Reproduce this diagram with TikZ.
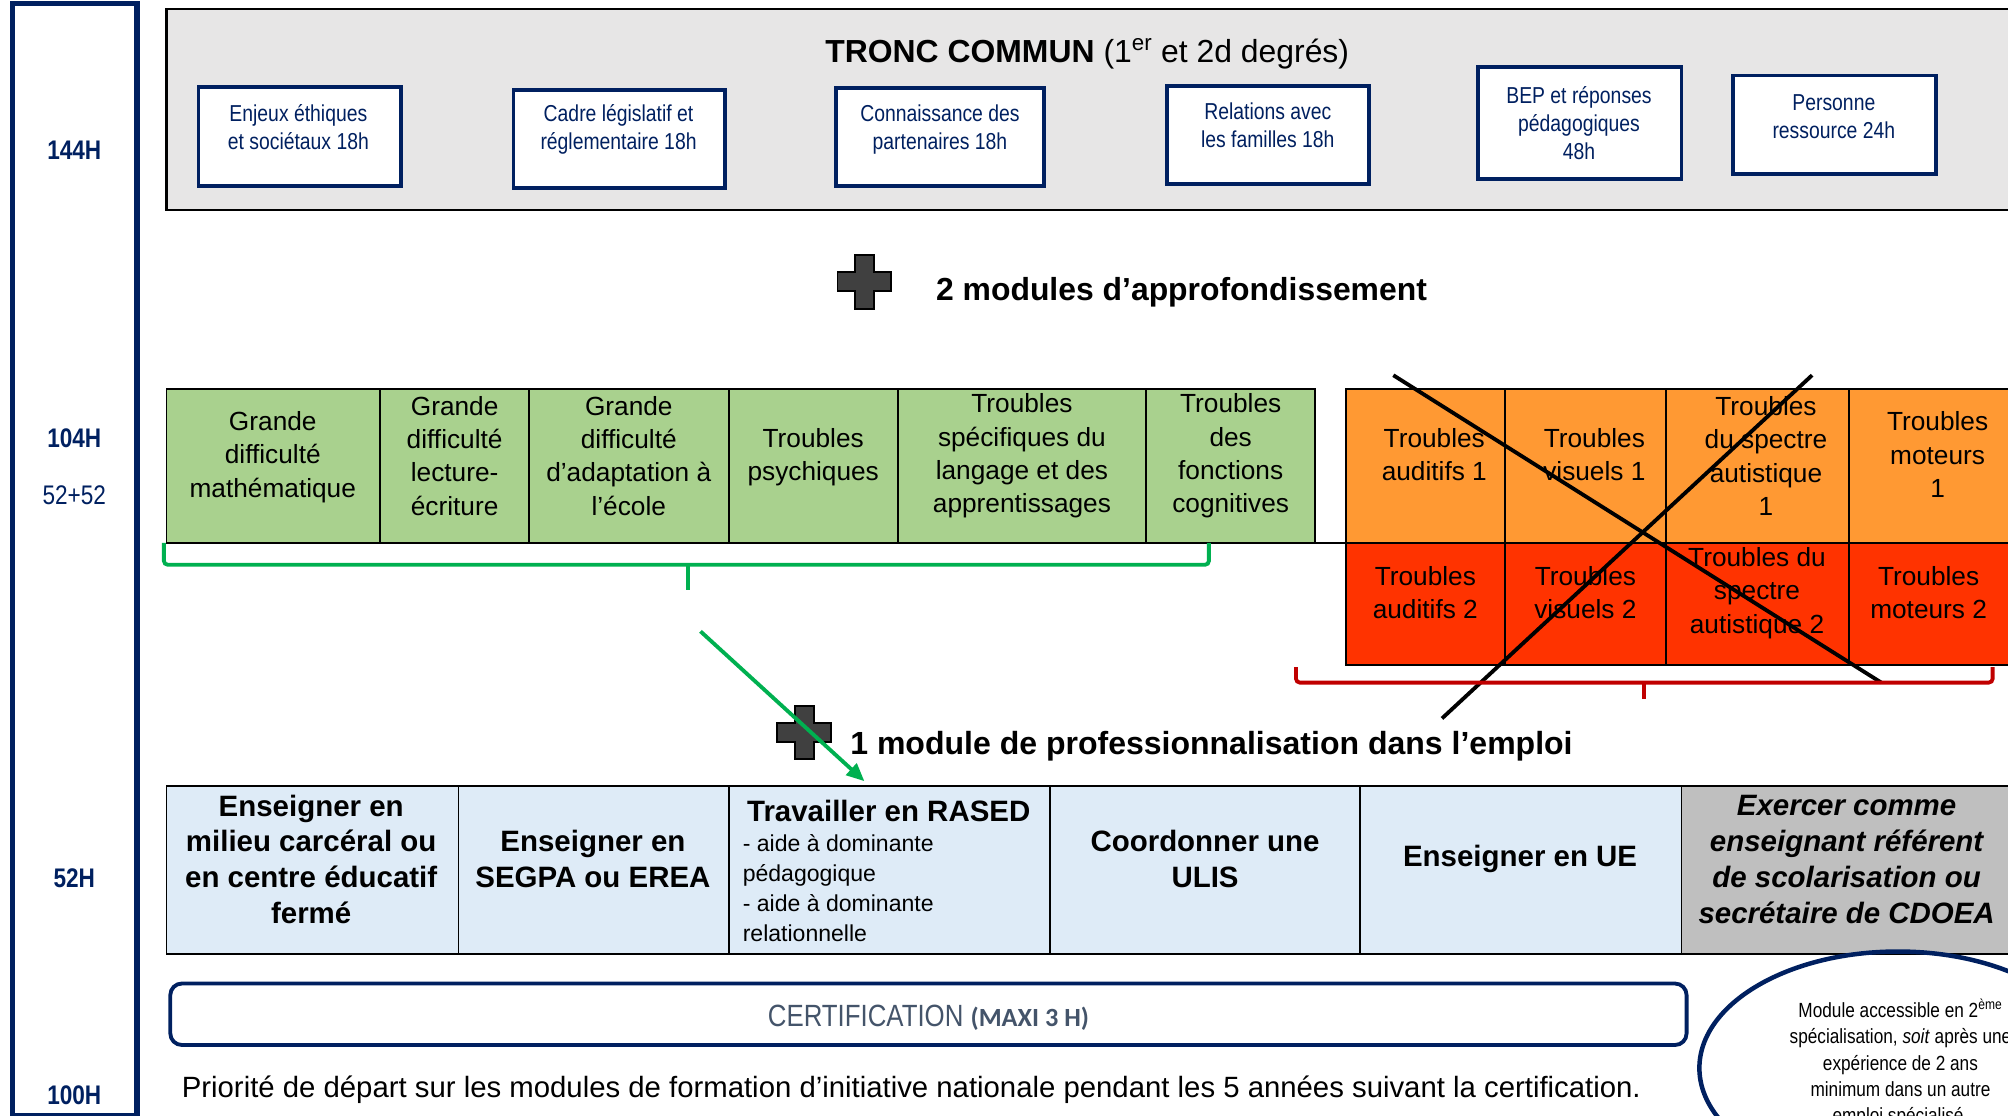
\documentclass[tikz,border=0pt]{standalone}
\usepackage{fontspec}
\setmainfont{Liberation Sans}
\newfontfamily\narrowfont[FakeStretch=0.84]{Liberation Sans}
\newfontfamily\carlitofont{Carlito}
\usetikzlibrary{arrows.meta,shapes.geometric,calc}
\definecolor{navy}{HTML}{002060}
\definecolor{tcgray}{HTML}{E7E6E6}
\definecolor{cgreen}{HTML}{A9D18E}
\definecolor{corange}{HTML}{FF9933}
\definecolor{cred}{HTML}{FF3300}
\definecolor{cblue}{HTML}{DEEBF7}
\definecolor{cgrey}{HTML}{BFBFBF}
\definecolor{lgreen}{HTML}{00B050}
\definecolor{lred}{HTML}{C00000}
\definecolor{certtxt}{HTML}{44546A}
\definecolor{plusgray}{HTML}{404040}
\newcommand\myfs[2]{\fontsize{#1}{#2}\selectfont}
\begin{document}
\begin{tikzpicture}[x=1pt,y=-1pt,
  every node/.style={inner sep=0pt, outer sep=0pt},
  sbox/.style={draw=navy, line width=3pt, fill=white},
  stext/.style={text=navy, align=center, font=\narrowfont\myfs{18}{22}},
  barlbl/.style={text=navy, font=\narrowfont\bfseries\myfs{21}{24}},
  cell/.style={draw=black, line width=1.5pt, anchor=north west},
  gcell/.style={cell, fill=cgreen, minimum height=120},
  ocell/.style={cell, fill=corange, minimum height=120},
  rcell/.style={cell, fill=cred, minimum height=95},
  bcell/.style={cell, fill=cblue, minimum height=131},
  ctext/.style={align=center, font=\myfs{20.5}{26}},
  btext/.style={align=center, font=\bfseries\myfs{23}{28}},
  plusmark/.style={fill=plusgray, draw=black, line width=1.5pt},
  crossline/.style={draw=black, line width=3pt},
]
\useasboundingbox (0,0) rectangle (1568,871);
\clip (0,0) rectangle (1568,871);

% left bar
\node[draw=navy, line width=4pt, minimum width=97, minimum height=868, anchor=north west] (bar) at (10,3) {};
\node[barlbl] (h144) at (58,117) {144H};
\node[barlbl] (h104) at (58,342) {104H};
\node[text=navy, font=\narrowfont\myfs{21}{24}] (h5252) at (58,387) {52+52};
\node[barlbl] (h52) at (58,686) {52H};
\node[barlbl] (h100) at (58,855) {100H};

% tronc commun
\node[draw=black, line width=2pt, fill=tcgray, minimum width=1500, minimum height=157, anchor=north west] (tc) at (130,7) {};
\node[font=\myfs{24.9}{28}] (tctitle) at (849,42) {{\bfseries TRONC COMMUN} (1\textsuperscript{er} et 2d degrés)};

\node[sbox, minimum width=158, minimum height=77] (e1) at (234,106.5) {};
\node[stext] (e1t) at (233,99) {Enjeux éthiques\\et sociétaux 18h};
\node[sbox, minimum width=165, minimum height=77] (e2) at (483.5,108.5) {};
\node[stext] (e2t) at (483,101) {Cadre législatif et\\réglementaire 18h};
\node[sbox, minimum width=162, minimum height=76] (e3) at (734,107) {};
\node[stext] (e3t) at (734,101) {Connaissance des\\partenaires 18h};
\node[sbox, minimum width=158, minimum height=77] (e4) at (990,105.5) {};
\node[stext] (e4t) at (990,98) {Relations avec\\les familles 18h};
\node[sbox, minimum width=159, minimum height=88] (e5) at (1233.5,96) {};
\node[stext] (e5t) at (1233,96) {BEP et réponses\\pédagogiques\\48h};
\node[sbox, minimum width=159, minimum height=77] (e6) at (1432.5,97.5) {};
\node[stext] (e6t) at (1432,91) {Personne\\ressource 24h};

% first plus
\begin{scope}[shift={(675,220)}]
\draw[plusmark] (-7.5,-21) -- (7.5,-21) -- (7.5,-7.5) -- (21,-7.5) -- (21,7.5) -- (7.5,7.5) -- (7.5,21) -- (-7.5,21) -- (-7.5,7.5) -- (-21,7.5) -- (-21,-7.5) -- (-7.5,-7.5) -- cycle;
\end{scope}
\node[anchor=west, font=\bfseries\myfs{24.9}{28}] (appro) at (731,228) {2 modules d’approfondissement};

% green table
\node[gcell, minimum width=167] (g1) at (130,304) {};
\node[gcell, minimum width=116] (g2) at (297,304) {};
\node[gcell, minimum width=156] (g3) at (413,304) {};
\node[gcell, minimum width=132] (g4) at (569,304) {};
\node[gcell, minimum width=194] (g5) at (701,304) {};
\node[gcell, minimum width=132] (g6) at (895,304) {};
\node[ctext] (g1t) at (213,357) {Grande\\difficulté\\mathématique};
\node[ctext] (g2t) at (355,356) {Grande\\difficulté\\lecture-\\écriture};
\node[ctext] (g3t) at (491,356) {Grande\\difficulté\\d’adaptation à\\l’école};
\node[ctext] (g4t) at (635,357) {Troubles\\psychiques};
\node[ctext] (g5t) at (798,356) {Troubles\\spécifiques du\\langage et des\\apprentissages};
\node[ctext] (g6t) at (961,356) {Troubles\\des\\fonctions\\cognitives};

% orange / red table
\node[ocell, minimum width=124] (o1) at (1051,304) {};
\node[ocell, minimum width=126] (o2) at (1175,304) {};
\node[ocell, minimum width=143] (o3) at (1301,304) {};
\node[ocell, minimum width=160] (o4) at (1444,304) {};
\node[rcell, minimum width=124] (r1) at (1051,424) {};
\node[rcell, minimum width=126] (r2) at (1175,424) {};
\node[rcell, minimum width=143] (r3) at (1301,424) {};
\node[rcell, minimum width=160] (r4) at (1444,424) {};
\draw[line width=1.5pt] (g6.south east) -- (r1.north west);
\node[ctext] (o1t) at (1120,355) {Troubles\\auditifs 1};
\node[ctext] (o2t) at (1245,355) {Troubles\\visuels 1};
\node[ctext] (o3t) at (1379,356) {Troubles\\du spectre\\autistique\\1};
\node[ctext] (o4t) at (1513,355) {Troubles\\moteurs\\1};
\node[ctext] (r1t) at (1113,463) {Troubles\\auditifs 2};
\node[ctext] (r2t) at (1238,463) {Troubles\\visuels 2};
\node[ctext] (r3t) at (1372,463) {Troubles du\\spectre\\autistique 2};
\node[ctext] (r4t) at (1506,463) {Troubles\\moteurs 2};

% cross-out
\coordinate (xa1) at (1088,293);
\coordinate (xa2) at (1469,533);
\coordinate (xb1) at (1415,293);
\coordinate (xb2) at (1126,561);
\draw[crossline] (xa1) -- (xa2);
\draw[crossline] (xb1) -- (xb2);

% brackets
\coordinate (gb1) at (128,424);
\coordinate (gb2) at (944,424);
\draw[lgreen, line width=3pt, rounded corners=3pt] (gb1) -- ++(0,17) -- ($(gb2)+(0,17)$) -- (gb2);
\draw[lgreen, line width=3pt] (537,441) -- (537,461);
\coordinate (rb1) at (1012,521);
\coordinate (rb2) at (1556,521);
\draw[lred, line width=3pt, rounded corners=3pt] (rb1) -- ++(0,12) -- ($(rb2)+(0,12)$) -- (rb2);
\draw[lred, line width=3pt] (1284,533) -- (1284,546);

% second plus
\begin{scope}[shift={(628,572)}]
\draw[plusmark] (-7.5,-21) -- (7.5,-21) -- (7.5,-7.5) -- (21,-7.5) -- (21,7.5) -- (7.5,7.5) -- (7.5,21) -- (-7.5,21) -- (-7.5,7.5) -- (-21,7.5) -- (-21,-7.5) -- (-7.5,-7.5) -- cycle;
\end{scope}
\node[anchor=west, font=\bfseries\myfs{25}{28}] (prof) at (664,583) {1 module de professionnalisation dans l’emploi};

% blue table
\node[bcell, minimum width=228] (b1) at (130,614) {};
\node[bcell, minimum width=211] (b2) at (358,614) {};
\node[bcell, minimum width=251] (b3) at (569,614) {};
\node[bcell, minimum width=242] (b4) at (820,614) {};
\node[bcell, minimum width=251] (b5) at (1062,614) {};
\node[cell, fill=cgrey, minimum height=131, minimum width=300] (b6) at (1313,614) {};
\node[btext] (b1t) at (243,671) {Enseigner en\\milieu carcéral ou\\en centre éducatif\\fermé};
\node[btext] (b2t) at (463,671) {Enseigner en\\SEGPA ou EREA};
\node[btext] (b3t) at (694,633) {Travailler en RASED};
\node[anchor=north west, align=left, font=\myfs{18}{23.3}] (b3s) at (580,652) {- aide à dominante\\pédagogique\\- aide à dominante\\relationnelle};
\node[btext] (b4t) at (941,671) {Coordonner une\\ULIS};
\node[btext] (b5t) at (1187,671) {Enseigner en UE};
\node[btext, font=\bfseries\itshape\myfs{23}{28}] (b6t) at (1442,671) {Exercer comme\\enseignant référent\\de scolarisation ou\\secrétaire de CDOEA};

% green arrow
\coordinate (gastart) at (547,493);
\coordinate (gaend) at (675,610);
\draw[lgreen, line width=3pt, -{Triangle[length=14pt,width=12pt]}] (gastart) -- (gaend);

% certification
\node[draw=navy, line width=3pt, rounded corners=9pt, minimum width=1184, minimum height=48] (cert) at (725,792) {};
\node (certt) at (725,795) {\narrowfont\myfs{24}{28}\color{certtxt}CERTIFICATION \carlitofont\bfseries\myfs{20.5}{22}(MAXI 3 H)};

\node[anchor=west, font=\myfs{22.9}{26}] (prio) at (142,851) {Priorité de départ sur les modules de formation d’initiative nationale pendant les 5 années suivant la certification.};

% ellipse
\node[draw=navy, line width=3.5pt, ellipse, minimum width=310, minimum height=182] (ell) at (1482,834) {};
\node[align=center, font=\narrowfont\myfs{16}{20.5}] (ellt) at (1484,830) {Module accessible en 2\textsuperscript{ème}\\spécialisation, \textit{soit} après une\\expérience de 2 ans\\minimum dans un autre\\emploi spécialisé.};
\end{tikzpicture}
\end{document}
